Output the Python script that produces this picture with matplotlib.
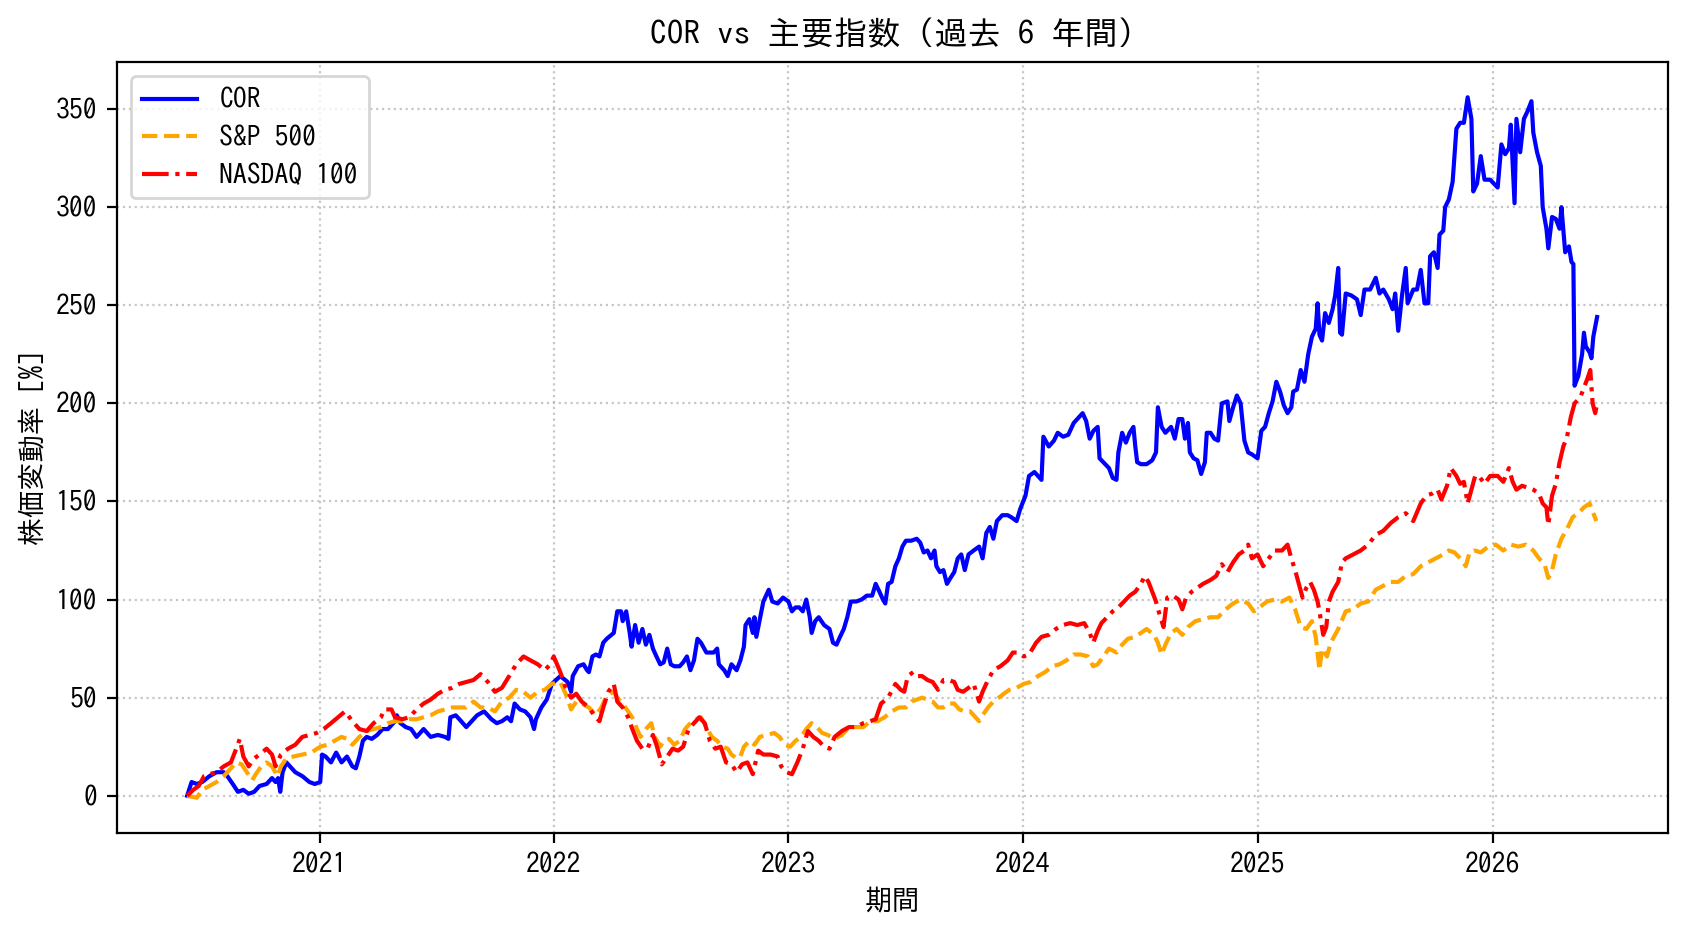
import datetime as dt
import matplotlib
matplotlib.use("Agg")
import matplotlib.pyplot as plt
import matplotlib.dates as mdates

plt.rcParams['font.family'] = ['IPAGothic', 'Noto Sans CJK JP', 'DejaVu Sans']

# (decimal year, % change)
COR = [
    (2020.437, 0), (2020.456, 7), (2020.478, 6), (2020.501, 7), (2020.532, 10), (2020.562, 12),
    (2020.593, 12), (2020.608, 10), (2020.631, 6), (2020.653, 2), (2020.676, 3), (2020.699, 1),
    (2020.722, 2), (2020.745, 5), (2020.775, 6), (2020.798, 9), (2020.813, 7), (2020.824, 9),
    (2020.833, 2), (2020.843, 12), (2020.859, 17), (2020.874, 15), (2020.897, 12), (2020.927, 10),
    (2020.957, 7), (2020.980, 6), (2021.003, 7), (2021.011, 21), (2021.026, 20), (2021.049, 17),
    (2021.071, 22), (2021.094, 17), (2021.117, 20), (2021.140, 15), (2021.155, 14), (2021.170, 20),
    (2021.185, 28), (2021.201, 30), (2021.223, 29), (2021.246, 31), (2021.269, 34), (2021.292, 34),
    (2021.322, 38), (2021.330, 41), (2021.345, 37), (2021.368, 35), (2021.391, 34), (2021.414, 30),
    (2021.444, 34), (2021.474, 30), (2021.505, 31), (2021.535, 30), (2021.550, 29), (2021.558, 40),
    (2021.581, 41), (2021.604, 38), (2021.626, 35), (2021.649, 38), (2021.672, 41), (2021.702, 43),
    (2021.733, 39), (2021.756, 37), (2021.778, 38), (2021.801, 40), (2021.817, 38), (2021.832, 47),
    (2021.855, 44), (2021.877, 43), (2021.900, 40), (2021.915, 34), (2021.923, 39), (2021.946, 45),
    (2021.969, 49), (2021.991, 57),
    (2022.027, 61), (2022.058, 58), (2022.073, 53), (2022.080, 61), (2022.103, 66), (2022.126, 67),
    (2022.141, 64), (2022.149, 63), (2022.164, 71), (2022.179, 72), (2022.194, 71), (2022.210, 78),
    (2022.225, 80), (2022.255, 83), (2022.270, 94), (2022.286, 94), (2022.293, 89), (2022.308, 94),
    (2022.323, 83), (2022.331, 76), (2022.346, 87), (2022.361, 78), (2022.377, 85), (2022.392, 77),
    (2022.407, 82), (2022.422, 75), (2022.437, 71), (2022.453, 67), (2022.468, 68), (2022.483, 75),
    (2022.498, 67), (2022.513, 66), (2022.536, 66), (2022.551, 68), (2022.567, 71), (2022.582, 64),
    (2022.597, 69), (2022.612, 80), (2022.627, 78), (2022.650, 73), (2022.681, 73), (2022.696, 75),
    (2022.703, 67), (2022.726, 64), (2022.741, 61), (2022.757, 67), (2022.779, 64), (2022.795, 69),
    (2022.810, 76), (2022.817, 87), (2022.833, 90), (2022.848, 83), (2022.855, 91), (2022.863, 81),
    (2022.878, 90), (2022.893, 99), (2022.916, 105), (2022.931, 99), (2022.954, 98), (2022.977, 101),
    (2023.000, 99), (2023.015, 94), (2023.030, 96), (2023.046, 96), (2023.061, 94), (2023.076, 100),
    (2023.091, 91), (2023.099, 83), (2023.114, 89), (2023.129, 91), (2023.152, 87), (2023.175, 85),
    (2023.190, 78), (2023.205, 77), (2023.220, 81), (2023.236, 85), (2023.251, 91), (2023.266, 99),
    (2023.289, 99), (2023.312, 100), (2023.334, 102), (2023.357, 102), (2023.372, 108), (2023.388, 104),
    (2023.403, 100), (2023.413, 98), (2023.425, 108), (2023.440, 109), (2023.456, 117), (2023.471, 121),
    (2023.486, 127), (2023.501, 130), (2023.524, 130), (2023.547, 131), (2023.562, 129), (2023.577, 124),
    (2023.593, 125), (2023.608, 121), (2023.623, 125), (2023.631, 117), (2023.646, 114), (2023.661, 115),
    (2023.676, 108), (2023.691, 111), (2023.707, 114), (2023.722, 121), (2023.737, 123), (2023.752, 115),
    (2023.768, 123), (2023.790, 125), (2023.813, 127), (2023.828, 121), (2023.844, 134), (2023.859, 137),
    (2023.874, 131), (2023.889, 140), (2023.912, 143), (2023.935, 143), (2023.950, 142), (2023.973, 140),
    (2023.988, 146), (2024.011, 153), (2024.026, 163), (2024.049, 165), (2024.079, 161), (2024.087, 183),
    (2024.110, 178), (2024.132, 181), (2024.148, 185), (2024.171, 183), (2024.193, 184), (2024.216, 190),
    (2024.239, 193), (2024.254, 195), (2024.269, 191), (2024.284, 182), (2024.300, 186),
    (2024.318, 188), (2024.326, 172), (2024.342, 170), (2024.366, 167), (2024.382, 162), (2024.398, 161),
    (2024.406, 175), (2024.422, 185), (2024.438, 180), (2024.454, 185), (2024.470, 188), (2024.478, 178),
    (2024.486, 170), (2024.502, 169), (2024.526, 169), (2024.550, 171), (2024.566, 175), (2024.574, 198),
    (2024.590, 188), (2024.606, 185), (2024.630, 188), (2024.646, 182), (2024.662, 192), (2024.678, 192),
    (2024.689, 182), (2024.702, 190), (2024.710, 175), (2024.726, 172), (2024.742, 171), (2024.758, 164),
    (2024.774, 170), (2024.782, 185), (2024.798, 185), (2024.814, 182), (2024.830, 181), (2024.846, 200),
    (2024.870, 201), (2024.878, 191), (2024.894, 198), (2024.910, 204), (2024.926, 200), (2024.942, 181),
    (2024.958, 175), (2024.974, 174), (2024.998, 172), (2025.014, 186), (2025.030, 188), (2025.046, 195),
    (2025.062, 201), (2025.078, 211), (2025.094, 206), (2025.110, 199), (2025.126, 195), (2025.142, 198),
    (2025.150, 206), (2025.166, 207), (2025.182, 217), (2025.198, 211), (2025.214, 225), (2025.230, 234),
    (2025.246, 238), (2025.254, 251), (2025.262, 235), (2025.273, 232), (2025.286, 246), (2025.302, 241),
    (2025.318, 248), (2025.329, 255), (2025.342, 269), (2025.350, 236), (2025.358, 235), (2025.374, 256),
    (2025.398, 255), (2025.422, 253), (2025.438, 245), (2025.454, 258), (2025.478, 258), (2025.502, 264),
    (2025.518, 256), (2025.534, 258), (2025.558, 253), (2025.574, 248), (2025.585, 256), (2025.598, 237),
    (2025.614, 255), (2025.630, 269), (2025.638, 251), (2025.662, 258), (2025.678, 258), (2025.694, 268),
    (2025.710, 251), (2025.726, 251), (2025.734, 275), (2025.750, 277), (2025.766, 269), (2025.774, 286),
    (2025.790, 288), (2025.798, 300), (2025.814, 304), (2025.830, 313), (2025.846, 340), (2025.862, 343),
    (2025.878, 343), (2025.894, 356), (2025.910, 345), (2025.918, 308), (2025.934, 312), (2025.950, 326),
    (2025.966, 314), (2025.990, 314), (2026.006, 312), (2026.022, 310), (2026.038, 332), (2026.054, 327),
    (2026.070, 330), (2026.078, 342), (2026.094, 302), (2026.102, 345), (2026.118, 328), (2026.134, 345),
    (2026.150, 349), (2026.166, 354), (2026.174, 338), (2026.190, 328), (2026.206, 321), (2026.214, 300),
    (2026.230, 289), (2026.238, 279), (2026.254, 295), (2026.270, 294), (2026.286, 289), (2026.294, 300),
    (2026.310, 277), (2026.326, 280), (2026.337, 272), (2026.345, 271), (2026.350, 209), (2026.366, 214),
    (2026.382, 225), (2026.390, 236), (2026.398, 229), (2026.414, 226), (2026.422, 223), (2026.430, 234),
    (2026.446, 244),
]

SP500 = [
    (2020.437, 0), (2020.478, -1), (2020.501, 3), (2020.532, 5), (2020.562, 7), (2020.593, 10),
    (2020.623, 14), (2020.646, 17), (2020.669, 16), (2020.691, 12), (2020.714, 8), (2020.729, 11),
    (2020.752, 15), (2020.775, 17), (2020.798, 15), (2020.821, 10), (2020.836, 15), (2020.859, 19),
    (2020.889, 20), (2020.927, 21), (2020.965, 22), (2021.003, 25), (2021.033, 26), (2021.064, 28),
    (2021.094, 30), (2021.117, 29), (2021.140, 26), (2021.170, 30), (2021.201, 33), (2021.231, 34),
    (2021.262, 35), (2021.292, 37), (2021.322, 38), (2021.353, 38), (2021.383, 39), (2021.414, 39),
    (2021.444, 40), (2021.474, 41), (2021.505, 43), (2021.535, 44), (2021.566, 45), (2021.596, 45),
    (2021.626, 45), (2021.657, 48), (2021.687, 45), (2021.718, 45), (2021.748, 43), (2021.778, 48),
    (2021.809, 50), (2021.839, 54), (2021.870, 53), (2021.900, 50), (2021.931, 53), (2021.961, 54),
    (2021.991, 57),
    (2022.027, 58), (2022.057, 50), (2022.073, 44), (2022.095, 48), (2022.118, 47), (2022.149, 45),
    (2022.179, 41), (2022.202, 45), (2022.217, 49), (2022.240, 52), (2022.255, 53), (2022.270, 50),
    (2022.293, 47), (2022.316, 43), (2022.339, 39), (2022.354, 34), (2022.369, 30), (2022.392, 34),
    (2022.415, 37), (2022.430, 30), (2022.453, 25), (2022.468, 28), (2022.491, 29), (2022.513, 26),
    (2022.536, 28), (2022.559, 34), (2022.582, 37), (2022.605, 39), (2022.627, 40), (2022.650, 35),
    (2022.673, 30), (2022.696, 28), (2022.719, 25), (2022.741, 24), (2022.757, 21), (2022.779, 19),
    (2022.795, 20), (2022.810, 25), (2022.833, 28), (2022.855, 26), (2022.878, 30), (2022.909, 31),
    (2022.939, 32), (2022.962, 30), (2022.985, 26), (2023.007, 25), (2023.030, 28), (2023.053, 30),
    (2023.076, 34), (2023.099, 37), (2023.121, 35), (2023.144, 32), (2023.167, 31), (2023.197, 29),
    (2023.228, 31), (2023.258, 35), (2023.289, 35), (2023.319, 35), (2023.349, 38), (2023.380, 38),
    (2023.410, 40), (2023.440, 43), (2023.471, 45), (2023.501, 45), (2023.524, 48), (2023.547, 49),
    (2023.570, 50), (2023.593, 49), (2023.615, 48), (2023.638, 45), (2023.661, 45), (2023.684, 47),
    (2023.707, 47), (2023.729, 44), (2023.752, 43), (2023.775, 43), (2023.798, 40), (2023.813, 38),
    (2023.828, 41), (2023.851, 45), (2023.874, 48), (2023.897, 50), (2023.919, 52), (2023.942, 54),
    (2023.973, 55), (2024.003, 57), (2024.033, 58), (2024.064, 61), (2024.094, 63), (2024.125, 66),
    (2024.155, 67), (2024.185, 69), (2024.216, 72), (2024.246, 72), (2024.277, 71), (2024.299, 66),
    (2024.318, 67), (2024.342, 71), (2024.366, 75), (2024.398, 73), (2024.422, 77), (2024.446, 80),
    (2024.478, 81), (2024.502, 83), (2024.526, 85), (2024.558, 82), (2024.574, 78), (2024.590, 72),
    (2024.606, 77), (2024.630, 83), (2024.654, 85), (2024.678, 82), (2024.702, 86), (2024.734, 89),
    (2024.766, 90), (2024.798, 91), (2024.830, 91), (2024.862, 95), (2024.894, 98), (2024.926, 100),
    (2024.958, 98), (2024.982, 94), (2025.006, 96), (2025.038, 99), (2025.070, 100), (2025.102, 99),
    (2025.134, 101), (2025.158, 95), (2025.182, 86), (2025.206, 85), (2025.230, 89), (2025.246, 81),
    (2025.262, 64), (2025.273, 75), (2025.294, 71), (2025.310, 78), (2025.342, 85), (2025.374, 94),
    (2025.406, 95), (2025.438, 98), (2025.470, 99), (2025.502, 105), (2025.534, 107), (2025.566, 109),
    (2025.598, 109), (2025.630, 112), (2025.662, 113), (2025.694, 117), (2025.726, 119), (2025.758, 121),
    (2025.790, 123), (2025.814, 125), (2025.838, 124), (2025.862, 121), (2025.886, 117), (2025.902, 124),
    (2025.926, 125), (2025.950, 124), (2025.982, 127), (2026.014, 128), (2026.046, 125), (2026.078, 128),
    (2026.110, 127), (2026.142, 128), (2026.174, 125), (2026.198, 121), (2026.222, 118), (2026.238, 111),
    (2026.254, 115), (2026.270, 123), (2026.294, 131), (2026.318, 136), (2026.342, 142), (2026.366, 144),
    (2026.390, 147), (2026.414, 149), (2026.430, 144), (2026.443, 140),
]

NDX100 = [
    (2020.437, 0), (2020.463, 3), (2020.486, 5), (2020.509, 10), (2020.532, 11), (2020.562, 12),
    (2020.593, 15), (2020.623, 17), (2020.646, 24), (2020.661, 29), (2020.676, 20), (2020.699, 15),
    (2020.722, 19), (2020.745, 21), (2020.775, 24), (2020.798, 21), (2020.813, 15), (2020.836, 21),
    (2020.866, 24), (2020.897, 26), (2020.927, 30), (2020.957, 31), (2020.988, 32), (2021.018, 34),
    (2021.049, 37), (2021.079, 40), (2021.109, 43), (2021.140, 38), (2021.170, 34), (2021.201, 33),
    (2021.231, 37), (2021.262, 40), (2021.277, 44), (2021.307, 44), (2021.322, 40), (2021.353, 39),
    (2021.383, 40), (2021.414, 44), (2021.444, 47), (2021.474, 49), (2021.505, 52), (2021.535, 54),
    (2021.566, 55), (2021.596, 57), (2021.626, 58), (2021.657, 59), (2021.687, 62), (2021.718, 58),
    (2021.748, 53), (2021.778, 55), (2021.809, 61), (2021.839, 67), (2021.870, 71), (2021.900, 69),
    (2021.931, 67), (2021.961, 64), (2021.984, 67), (2021.999, 71),
    (2022.027, 63), (2022.050, 55), (2022.073, 50), (2022.095, 52), (2022.118, 48), (2022.149, 45),
    (2022.171, 41), (2022.194, 38), (2022.210, 45), (2022.232, 53), (2022.255, 57), (2022.270, 48),
    (2022.293, 45), (2022.316, 40), (2022.331, 35), (2022.354, 28), (2022.377, 24), (2022.399, 24),
    (2022.422, 31), (2022.437, 26), (2022.460, 16), (2022.483, 20), (2022.506, 24), (2022.529, 23),
    (2022.551, 25), (2022.574, 34), (2022.597, 37), (2022.620, 40), (2022.643, 37), (2022.665, 28),
    (2022.688, 24), (2022.711, 25), (2022.734, 17), (2022.757, 16), (2022.779, 12), (2022.802, 16),
    (2022.825, 17), (2022.848, 11), (2022.871, 23), (2022.893, 21), (2022.924, 21), (2022.954, 20),
    (2022.969, 15), (2022.992, 12), (2023.015, 11), (2023.038, 17), (2023.061, 24), (2023.083, 33),
    (2023.106, 30), (2023.129, 28), (2023.152, 25), (2023.175, 24), (2023.197, 30), (2023.228, 33),
    (2023.258, 35), (2023.289, 35), (2023.319, 37), (2023.349, 38), (2023.372, 39), (2023.395, 47),
    (2023.425, 50), (2023.456, 57), (2023.479, 54), (2023.494, 53), (2023.509, 61), (2023.532, 63),
    (2023.547, 61), (2023.570, 61), (2023.593, 59), (2023.615, 58), (2023.638, 54), (2023.661, 59),
    (2023.684, 59), (2023.707, 58), (2023.722, 54), (2023.745, 53), (2023.768, 55), (2023.790, 57),
    (2023.813, 48), (2023.828, 53), (2023.851, 59), (2023.874, 64), (2023.904, 66), (2023.935, 69),
    (2023.957, 73), (2023.980, 73), (2024.003, 71), (2024.026, 72), (2024.056, 78), (2024.079, 81),
    (2024.110, 82), (2024.140, 85), (2024.170, 87), (2024.201, 88), (2024.231, 87), (2024.261, 88),
    (2024.284, 83), (2024.299, 78),
    (2024.318, 84), (2024.334, 88), (2024.358, 91), (2024.382, 94), (2024.406, 96), (2024.430, 99),
    (2024.454, 102), (2024.478, 104), (2024.502, 108), (2024.518, 112), (2024.534, 109), (2024.550, 104),
    (2024.566, 99), (2024.582, 92), (2024.598, 86), (2024.614, 101), (2024.638, 102), (2024.662, 100),
    (2024.678, 95), (2024.694, 101), (2024.718, 104), (2024.742, 106), (2024.766, 108), (2024.798, 110),
    (2024.822, 112), (2024.846, 118), (2024.870, 114), (2024.894, 119), (2024.918, 123), (2024.942, 125),
    (2024.958, 128), (2024.974, 121), (2024.998, 123), (2025.022, 117), (2025.046, 121), (2025.070, 125),
    (2025.102, 125), (2025.126, 128), (2025.142, 121), (2025.158, 115), (2025.174, 108), (2025.190, 101),
    (2025.206, 106), (2025.222, 109), (2025.238, 105), (2025.254, 99), (2025.262, 94), (2025.278, 82),
    (2025.291, 86), (2025.302, 99), (2025.318, 104), (2025.342, 109), (2025.358, 119), (2025.374, 121),
    (2025.406, 123), (2025.438, 125), (2025.470, 128), (2025.502, 133), (2025.534, 135), (2025.566, 139),
    (2025.598, 142), (2025.630, 144), (2025.662, 140), (2025.694, 149), (2025.718, 153), (2025.742, 154),
    (2025.766, 156), (2025.782, 151), (2025.806, 158), (2025.822, 167), (2025.846, 163), (2025.862, 159),
    (2025.878, 160), (2025.894, 149), (2025.910, 156), (2025.926, 163), (2025.942, 163), (2025.966, 159),
    (2025.990, 163), (2026.022, 163), (2026.046, 160), (2026.070, 167), (2026.086, 160), (2026.102, 156),
    (2026.126, 158), (2026.150, 157), (2026.174, 156), (2026.198, 154), (2026.214, 149), (2026.230, 147),
    (2026.238, 138), (2026.254, 153), (2026.270, 159), (2026.286, 170), (2026.302, 178), (2026.318, 183),
    (2026.334, 193), (2026.350, 200), (2026.374, 203), (2026.390, 208), (2026.406, 213), (2026.417, 217),
    (2026.427, 200), (2026.438, 195), (2026.443, 198),
]


def to_dates(pairs):
    out = []
    for t, _ in pairs:
        y = int(t)
        start = dt.datetime(y, 1, 1)
        days = (dt.datetime(y + 1, 1, 1) - start).days
        out.append(start + dt.timedelta(days=(t - y) * days))
    return out, [v for _, v in pairs]


fig = plt.figure(figsize=(8.44, 4.66), dpi=200)
ax = fig.add_axes([0.0691, 0.1065, 0.9188, 0.8267])

x, y = to_dates(COR)
ax.plot(x, y, color='blue', linestyle='-', linewidth=1.5, label='COR')
x, y = to_dates(SP500)
ax.plot(x, y, color='orange', linestyle='--', linewidth=1.5, label='S&P 500')
x, y = to_dates(NDX100)
ax.plot(x, y, color='red', linestyle='-.', linewidth=1.5, label='NASDAQ 100')

ax.xaxis.set_major_locator(mdates.YearLocator())
ax.xaxis.set_major_formatter(mdates.DateFormatter('%Y'))
ax.set_title('COR vs 主要指数 (過去 6 年間)', fontsize=12)
ax.set_xlabel('期間')
ax.set_ylabel('株価変動率 [%]')
ax.grid(True, linestyle=':', alpha=0.7)
ax.legend(loc='upper left')

fig.savefig('out.png', dpi=200)
